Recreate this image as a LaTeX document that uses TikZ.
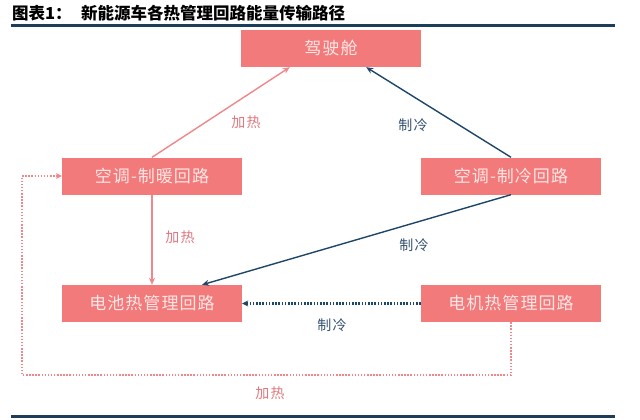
\documentclass[tikz,border=0pt]{standalone}
\usepackage{fontspec}
\setmainfont{Noto Sans CJK SC}
\usetikzlibrary{arrows.meta}
\definecolor{boxfill}{RGB}{243,122,122}
\definecolor{boxtext}{RGB}{252,230,230}
\definecolor{pinkline}{RGB}{240,135,138}
\definecolor{pinklabel}{RGB}{225,120,128}
\definecolor{blueline}{RGB}{30,70,105}
\definecolor{bluelabel}{RGB}{50,80,112}
\definecolor{rulecol}{RGB}{28,62,88}
\tikzset{
  x=1pt,y=-1pt,
  box/.style={fill=boxfill,draw=none,minimum width=180pt,minimum height=37pt,inner sep=0pt,
    text=boxtext,font=\fontsize{17}{18}\selectfont\addfontfeature{LetterSpace=6}},
  pinkarrow/.style={draw=pinkline,line width=1.4pt,-{Stealth[length=7pt,width=6pt]}},
  bluearrow/.style={draw=blueline,line width=1.4pt,-{Stealth[length=7pt,width=6pt]}},
  pinkdots/.style={draw=pinkline,line width=2pt,dash pattern=on 1.5pt off 1.6pt,-{Stealth[length=6pt,width=6pt]}},
  bluedots/.style={draw=blueline,line width=2.2pt,dash pattern=on 1.6pt off 1.6pt,-{Stealth[length=6pt,width=6pt]}},
  heatlabel/.style={text=pinklabel,font=\fontsize{14}{15}\selectfont\addfontfeature{LetterSpace=8},inner sep=0pt},
  coollabel/.style={text=bluelabel,font=\fontsize{14}{15}\selectfont\addfontfeature{LetterSpace=8},inner sep=0pt},
  rulestyle/.style={draw=rulecol,line width=3pt}
}
\begin{document}
\begin{tikzpicture}
\useasboundingbox[fill=white] (0,0) rectangle (640,420);
% title
\node[anchor=west,inner sep=0pt,font=\fontsize{16.5}{18}\selectfont\bfseries] (t1) at (12,13) {图表1：};
\node[anchor=west,inner sep=0pt,font=\fontsize{16.5}{18}\selectfont\bfseries] (t2) at (81,13) {新能源车各热管理回路能量传输路径};
\coordinate (r1a) at (11,26); \coordinate (r1b) at (615,26);
\draw[rulestyle] (r1a) -- (r1b);
\coordinate (r2a) at (11,416); \coordinate (r2b) at (615,416);
\draw[rulestyle] (r2a) -- (r2b);
% boxes
\node[box] (cab) at (331,48.5) {驾驶舱};
\node[box] (heat) at (152,176) {空调-制暖回路};
\node[box] (cool) at (511,176) {空调-制冷回路};
\node[box] (bat) at (152,303.5) {电池热管理回路};
\node[box] (mot) at (511,303.5) {电机热管理回路};
% connectors
\draw[pinkarrow] (heat.north) -- ([xshift=49pt]cab.south west);
\draw[bluearrow] (cool.north) -- ([xshift=-55pt]cab.south east);
\draw[pinkarrow] (heat.south) -- (bat.north);
\draw[bluearrow] (cool.south) -- ([xshift=50pt]bat.north);
\draw[bluedots] (mot.west) -- (bat.east);
\coordinate (lowR) at (511,375);
\coordinate (lowL) at (22,375);
\draw[pinkdots] (mot.south) -- (lowR) -- (lowL) |- (heat.west);
% labels
\node[heatlabel] (l1) at (246,122) {加热};
\node[coollabel] (l2) at (413,125) {制冷};
\node[heatlabel] (l3) at (180,237) {加热};
\node[coollabel] (l4) at (414,245) {制冷};
\node[coollabel] (l5) at (332,325) {制冷};
\node[heatlabel] (l6) at (270,393) {加热};
\end{tikzpicture}
\end{document}
